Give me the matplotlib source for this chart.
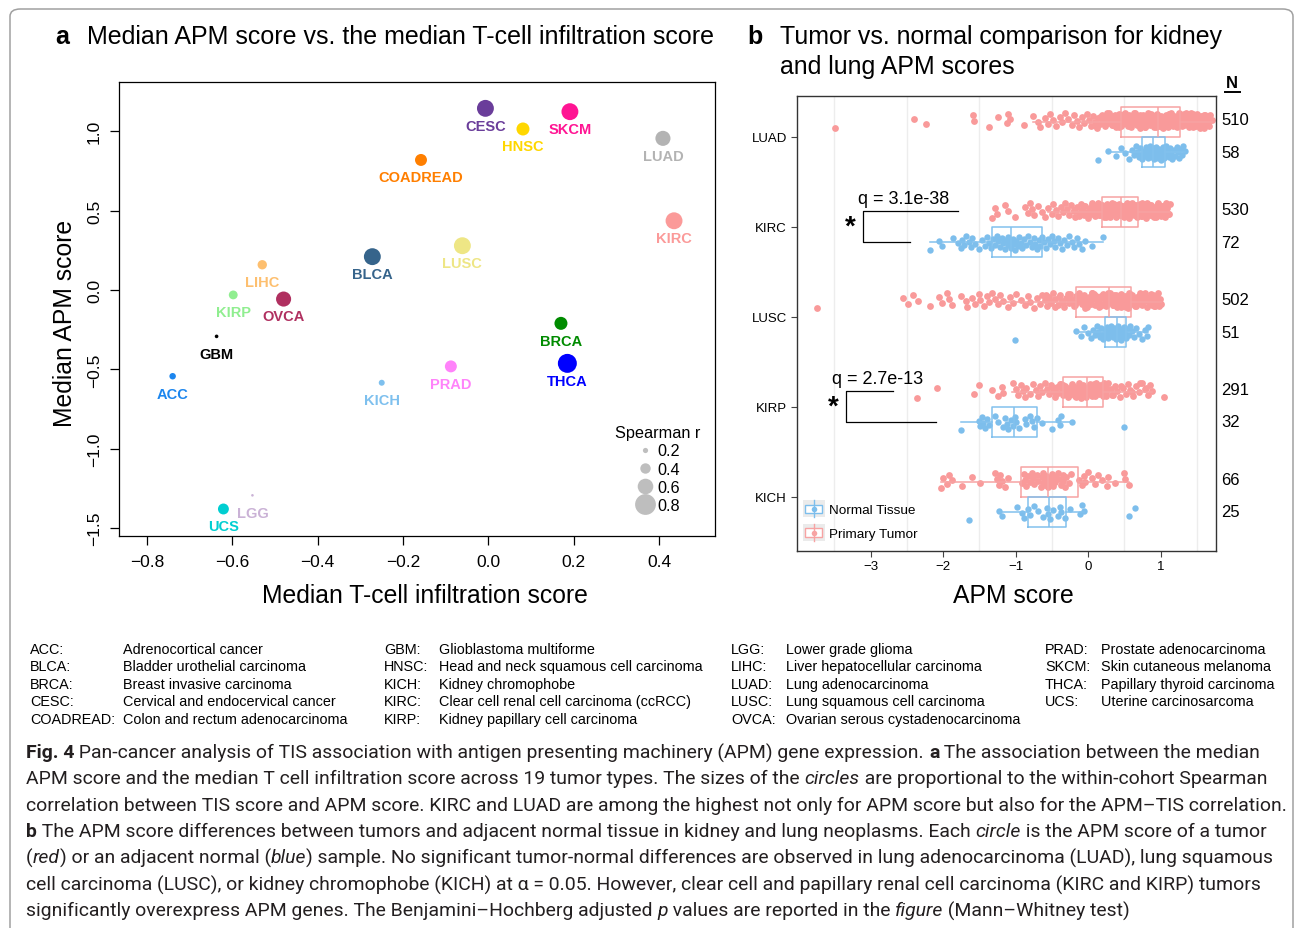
import matplotlib

matplotlib.use("Agg")
import matplotlib.pyplot as plt
import matplotlib.transforms as mtransforms
import numpy as np
from matplotlib import font_manager
from matplotlib.legend_handler import HandlerBase
from matplotlib.lines import Line2D
from matplotlib.patches import FancyBboxPatch, Rectangle

plt.rcParams["font.family"] = ["Liberation Sans", "DejaVu Sans"]

W, H = 1295, 929

# ---- panel a: median T-cell infiltration vs median APM score
cancers = ["ACC", "BLCA", "BRCA", "CESC", "COADREAD", "GBM", "HNSC", "KICH", "KIRC",
           "KIRP", "LGG", "LIHC", "LUAD", "LUSC", "OVCA", "PRAD", "SKCM", "THCA", "UCS"]
tcell = [-0.740, -0.272, 0.170, -0.007, -0.158, -0.637, 0.081, -0.250, 0.435,
         -0.598, -0.553, -0.530, 0.409, -0.061, -0.480, -0.088, 0.191, 0.185, -0.621]
apm = [-0.543, 0.210, -0.210, 1.144, 0.819, -0.292, 1.014, -0.584, 0.436,
       -0.031, -1.293, 0.159, 0.955, 0.279, -0.057, -0.481, 1.123, -0.462, -1.379]
spearman = [0.25, 0.65, 0.50, 0.65, 0.46, 0.14, 0.50, 0.23, 0.65,
            0.34, 0.10, 0.36, 0.58, 0.65, 0.58, 0.46, 0.65, 0.73, 0.42]
colors = ["#1C86EE", "#36648B", "#008B00", "#6A3D9A", "#FF7F00", "#000000", "#FFD700",
          "#7EC0EE", "#FB9A99", "#90EE90", "#CAB2D6", "#FDBF6F", "#B3B3B3", "#EEE685",
          "#B03060", "#FF83FA", "#FF1493", "#0000FF", "#00CED1"]
a_xticks = [-0.8, -0.6, -0.4, -0.2, 0.0, 0.2, 0.4]
a_xticklabels = ["\u22120.8", "\u22120.6", "\u22120.4", "\u22120.2", "0.0", "0.2", "0.4"]
a_yticks = [-1.5, -1.0, -0.5, 0.0, 0.5, 1.0]
a_yticklabels = ["\u22121.5", "\u22121.0", "\u22120.5", "0.0", "0.5", "1.0"]
legend_r = [0.2, 0.4, 0.6, 0.8]

# ---- panel b: tumor vs normal APM scores
groups = ["LUAD", "KIRC", "LUSC", "KIRP", "KICH"]
group_pos = [5, 4, 3, 2, 1]
tumor_n = [510, 530, 502, 291, 66]
normal_n = [58, 72, 51, 32, 25]

tumor_q1 = [0.46, 0.19, -0.17, -0.34, -0.92]
tumor_med = [0.97, 0.46, 0.29, -0.01, -0.56]
tumor_q3 = [1.27, 0.69, 0.59, 0.21, -0.14]
tumor_lo = [-0.76, -0.55, -1.28, -1.05, -2.03]
tumor_hi = [1.71, 1.13, 1.01, 0.88, 0.56]
normal_q1 = [0.75, -1.32, 0.23, -1.33, -0.83]
normal_med = [0.90, -1.06, 0.40, -1.02, -0.54]
normal_q3 = [1.06, -0.64, 0.52, -0.70, -0.30]
normal_lo = [0.30, -2.18, -0.17, -1.76, -1.23]
normal_hi = [1.33, 0.21, 0.83, -0.22, -0.06]

luad_tumor = [-3.49, -2.40, -2.23, -1.59, -1.58, -1.37, -1.25, -1.12, -1.10, -1.08, -0.89,
              -0.76, -0.69, -0.66, -0.60, -0.55, -0.52, -0.48, -0.44, -0.39, -0.36, -0.32,
              -0.28, -0.22, -0.19, -0.15, -0.12, -0.08, -0.05, -0.02,
              0.01, 0.04, 0.07, 0.09, 0.12, 0.14, 0.16, 0.19, 0.21, 0.23, 0.25, 0.27, 0.29,
              0.31, 0.33, 0.34, 0.36, 0.38, 0.40, 0.41, 0.43, 0.45, 0.46, 0.48, 0.50, 0.51,
              0.53, 0.54, 0.56, 0.58, 0.59, 0.61, 0.62, 0.64, 0.65, 0.67, 0.68, 0.70, 0.71,
              0.73, 0.74, 0.76, 0.77, 0.79, 0.80, 0.82, 0.83, 0.85, 0.86, 0.88, 0.89, 0.91,
              0.92, 0.94, 0.95, 0.97, 0.98, 1.00, 1.01, 1.03, 1.04, 1.06, 1.07, 1.09, 1.10,
              1.12, 1.13, 1.15, 1.16, 1.18, 1.19, 1.21, 1.22, 1.24, 1.25, 1.27, 1.28, 1.30,
              1.31, 1.33, 1.35, 1.36, 1.38, 1.40, 1.42, 1.44, 1.46, 1.48, 1.50, 1.52, 1.54,
              1.56, 1.58, 1.60, 1.62, 1.65, 1.68, 1.71,
              0.11, 0.17, 0.22, 0.26, 0.30, 0.35, 0.37, 0.39, 0.42, 0.44, 0.47, 0.49, 0.52,
              0.55, 0.57, 0.60, 0.63, 0.66, 0.69, 0.72, 0.75, 0.78, 0.81, 0.84, 0.87, 0.90,
              0.93, 0.96, 0.99, 1.02, 1.05, 1.08, 1.11, 1.14, 1.17, 1.20, 1.23, 1.26, 1.29,
              1.32, 1.34, 1.37, 1.39, 1.41, 1.43, 1.45, 1.47, 1.49, 1.51, 1.53, 1.55, 1.57,
              1.59, 1.61, 1.64, 1.67, 0.50, 0.58, 0.64, 0.70, 0.76, 0.82, 0.88, 0.94, 1.00,
              1.06, 1.12, 1.18, 1.24, 1.30, 1.36, 1.42, 1.48, 1.54, 1.60, 0.62, 0.78, 0.96,
              1.14, 1.32]
luad_normal = [0.14, 0.28, 0.38, 0.45, 0.51, 0.56, 0.60, 0.63, 0.66, 0.68, 0.70, 0.72,
               0.74, 0.75, 0.77, 0.78, 0.80, 0.81, 0.82, 0.84, 0.85, 0.86, 0.87, 0.88,
               0.89, 0.90, 0.91, 0.92, 0.93, 0.94, 0.95, 0.96, 0.98, 0.99, 1.00, 1.01,
               1.02, 1.03, 1.04, 1.05, 1.06, 1.07, 1.08, 1.10, 1.11, 1.13, 1.15, 1.16,
               1.18, 1.20, 1.22, 1.24, 1.26, 1.28, 1.30, 1.31, 1.33, 0.92]
kirc_tumor = [-1.33, -1.28, -1.26, -1.14, -1.10, -1.01, -0.87, -0.83, -0.80, -0.78, -0.74,
              -0.69, -0.64, -0.59, -0.55, -0.50, -0.48, -0.44, -0.41, -0.37, -0.34, -0.32,
              -0.29, -0.26, -0.23, -0.20, -0.18, -0.15, -0.13, -0.10, -0.08, -0.06, -0.04,
              -0.02, 0.00, 0.02, 0.04, 0.06, 0.08, 0.09, 0.11, 0.13, 0.14, 0.16, 0.17, 0.19,
              0.20, 0.22, 0.23, 0.25, 0.26, 0.27, 0.29, 0.30, 0.31, 0.33, 0.34, 0.35, 0.37,
              0.38, 0.39, 0.41, 0.42, 0.43, 0.45, 0.46, 0.47, 0.49, 0.50, 0.51, 0.53, 0.54,
              0.55, 0.57, 0.58, 0.59, 0.61, 0.62, 0.63, 0.65, 0.66, 0.68, 0.69, 0.71, 0.72,
              0.74, 0.75, 0.77, 0.79, 0.80, 0.82, 0.84, 0.86, 0.88, 0.90, 0.92, 0.94, 0.96,
              0.98, 1.00, 1.02, 1.04, 1.06, 1.08, 1.10, 1.13,
              -0.19, -0.12, -0.05, 0.01, 0.05, 0.10, 0.15, 0.18, 0.21, 0.24, 0.28, 0.32, 0.36,
              0.40, 0.44, 0.48, 0.52, 0.56, 0.60, 0.64, 0.67, 0.70, 0.73, 0.76, 0.78, 0.81,
              0.83, 0.85, 0.87, 0.89, 0.91, 0.93, 0.95, 0.97, 0.99, 1.01, 1.03, 1.05, 1.07,
              1.09, 1.11, 0.12, 0.22, 0.30, 0.38, 0.46, 0.54, 0.62, 0.70, 0.78, 0.86, 0.94,
              1.02, 0.26, 0.34, 0.42, 0.50, 0.58, 0.66, 0.74]
kirc_normal = [-2.18, -2.06, -2.02, -1.86, -1.79, -1.76, -1.74, -1.71, -1.69, -1.65, -1.62,
               -1.60, -1.56, -1.50, -1.47, -1.42, -1.39, -1.37, -1.34, -1.31, -1.28, -1.26,
               -1.24, -1.21, -1.19, -1.17, -1.15, -1.13, -1.11, -1.10, -1.08, -1.06, -1.04,
               -1.02, -1.01, -0.99, -0.97, -0.95, -0.93, -0.91, -0.89, -0.86, -0.83, -0.80,
               -0.78, -0.75, -0.73, -0.70, -0.68, -0.66, -0.64, -0.61, -0.58, -0.55, -0.52,
               -0.50, -0.47, -0.45, -0.42, -0.39, -0.36, -0.33, -0.29, -0.26, -0.22, -0.20,
               -0.16, -0.13, -0.09, -0.04, 0.05, 0.21]
lusc_tumor = [-3.74, -2.55, -2.48, -2.41, -2.34, -2.18, -2.06, -2.02, -1.95, -1.92, -1.88,
              -1.76, -1.69, -1.67, -1.60, -1.56, -1.51, -1.49, -1.44, -1.40, -1.37, -1.33,
              -1.28, -1.24, -1.21, -1.17, -1.10, -1.08, -1.03, -0.99, -0.92, -0.87, -0.83,
              -0.80, -0.74, -0.70, -0.66, -0.63, -0.60, -0.57, -0.54, -0.51, -0.48, -0.45,
              -0.42, -0.39, -0.36, -0.33, -0.30, -0.27, -0.25, -0.22, -0.20, -0.17, -0.15,
              -0.13, -0.10, -0.08, -0.06, -0.03, -0.01, 0.01, 0.03, 0.05, 0.07, 0.09, 0.11,
              0.13, 0.15, 0.17, 0.19, 0.21, 0.23, 0.25, 0.27, 0.29, 0.30, 0.32, 0.34, 0.36,
              0.38, 0.40, 0.41, 0.43, 0.45, 0.47, 0.49, 0.51, 0.53, 0.55, 0.57, 0.59, 0.61,
              0.63, 0.65, 0.67, 0.69, 0.71, 0.73, 0.75, 0.77, 0.79, 0.81, 0.83, 0.85, 0.87,
              0.89, 0.91, 0.93, 0.95, 0.97, 0.99, 1.01,
              -0.58, -0.52, -0.46, -0.40, -0.34, -0.28, -0.23, -0.18, -0.14, -0.09, -0.04,
              0.00, 0.04, 0.08, 0.12, 0.16, 0.20, 0.24, 0.28, 0.31, 0.35, 0.39, 0.42, 0.46,
              0.50, 0.54, 0.58, 0.62, 0.66, 0.70, 0.74, 0.78, 0.82, 0.86, 0.90, 0.94, 0.98,
              -0.12, -0.02, 0.06, 0.14, 0.22, 0.33, 0.44, 0.52, 0.60, 0.68, 0.76, 0.84, 0.92,
              0.18, 0.37, 0.56, 0.72, 0.88]
lusc_normal = [-1.01, -0.17, -0.10, -0.05, 0.00, 0.04, 0.07, 0.10, 0.12, 0.14, 0.16, 0.18,
               0.20, 0.21, 0.23, 0.24, 0.26, 0.27, 0.28, 0.30, 0.31, 0.32, 0.34, 0.35, 0.36,
               0.37, 0.38, 0.39, 0.40, 0.41, 0.42, 0.43, 0.44, 0.45, 0.46, 0.47, 0.48, 0.50,
               0.51, 0.52, 0.54, 0.56, 0.58, 0.60, 0.63, 0.66, 0.70, 0.74, 0.78, 0.81, 0.83]
kirp_tumor = [-2.36, -2.09, -1.58, -1.51, -1.33, -1.24, -1.19, -1.17, -1.03, -1.00, -0.97,
              -0.92, -0.90, -0.87, -0.85, -0.80, -0.76, -0.72, -0.69, -0.66, -0.63, -0.60,
              -0.57, -0.54, -0.51, -0.48, -0.46, -0.43, -0.41, -0.38, -0.36, -0.34, -0.32,
              -0.30, -0.28, -0.26, -0.24, -0.22, -0.20, -0.18, -0.16, -0.14, -0.12, -0.11,
              -0.09, -0.07, -0.05, -0.03, -0.02, 0.00, 0.02, 0.04, 0.05, 0.07, 0.09, 0.11,
              0.13, 0.15, 0.17, 0.19, 0.21, 0.23, 0.25, 0.28, 0.31, 0.34, 0.37, 0.40, 0.44,
              0.48, 0.52, 0.55, 0.58, 0.62, 0.66, 0.70, 0.74, 0.78, 0.82, 0.86, 0.88, 1.05,
              -0.50, -0.44, -0.39, -0.33, -0.27, -0.21, -0.15, -0.10, -0.06, -0.01, 0.03, 0.06,
              0.10, 0.14, 0.18, 0.22, 0.27, 0.33, -0.35, -0.25, -0.17, -0.08, 0.01, 0.08, 0.16,
              0.24, 0.45, 0.60, 0.72, 0.80]
kirp_normal = [-1.76, -1.51, -1.49, -1.47, -1.45, -1.42, -1.40, -1.37, -1.28, -1.24, -1.17,
               -1.15, -1.12, -1.10, -1.06, -1.03, -1.01, -0.99, -0.95, -0.87, -0.85, -0.80,
               -0.78, -0.74, -0.70, -0.64, -0.50, -0.41, -0.39, -0.37, -0.22, 0.50]
kich_tumor = [-2.03, -2.00, -1.95, -1.92, -1.88, -1.74, -1.60, -1.49, -1.28, -1.26, -1.23,
              -1.21, -1.19, -1.14, -1.10, -0.91, -0.88, -0.87, -0.85, -0.83, -0.80, -0.78,
              -0.76, -0.74, -0.70, -0.69, -0.65, -0.64, -0.62, -0.62, -0.60, -0.59, -0.58,
              -0.57, -0.55, -0.53, -0.52, -0.50, -0.48, -0.48, -0.46, -0.45, -0.41, -0.40,
              -0.37, -0.35, -0.34, -0.32, -0.30, -0.27, -0.23, -0.13, -0.09, -0.05, -0.04,
              0.00, 0.05, 0.10, 0.14, 0.19, 0.26, 0.28, 0.37, 0.49, 0.51, 0.56]
kich_normal = [-1.65, -1.23, -1.19, -0.98, -0.91, -0.89, -0.83, -0.80, -0.74, -0.69, -0.62,
               -0.57, -0.55, -0.53, -0.48, -0.41, -0.39, -0.37, -0.32, -0.25, -0.11, -0.09,
               -0.06, 0.56, 0.65]
tumor_values = [luad_tumor, kirc_tumor, lusc_tumor, kirp_tumor, kich_tumor]
normal_values = [luad_normal, kirc_normal, lusc_normal, kirp_normal, kich_normal]

b_xticks = [-3, -2, -1, 0, 1]
b_xticklabels = ["\u22123", "\u22122", "\u22121", "0", "1"]
b_grid = [-3.5, -2.5, -1.5, -0.5, 0.5, 1.5]

# significance brackets (KIRC, KIRP)
sig_pos = [4, 2]
sig_labels = ["q = 3.1e-38", "q = 2.7e-13"]
sig_left = [-3.10, -3.34]
sig_top_end = [-1.80, -2.69]
sig_bottom_end = [-2.455, -2.10]
sig_text_x = [-2.54, -2.91]
sig_star_x = [-3.28, -3.52]

abbr_codes = [["ACC:", "BLCA:", "BRCA:", "CESC:", "COADREAD:"],
              ["GBM:", "HNSC:", "KICH:", "KIRC:", "KIRP:"],
              ["LGG:", "LIHC:", "LUAD:", "LUSC:", "OVCA:"],
              ["PRAD:", "SKCM:", "THCA:", "UCS:"]]
abbr_names = [["Adrenocortical cancer", "Bladder urothelial carcinoma", "Breast invasive carcinoma",
               "Cervical and endocervical cancer", "Colon and rectum adenocarcinoma"],
              ["Glioblastoma multiforme", "Head and neck squamous cell carcinoma",
               "Kidney chromophobe", "Clear cell renal cell carcinoma (ccRCC)",
               "Kidney papillary cell carcinoma"],
              ["Lower grade glioma", "Liver hepatocellular carcinoma", "Lung adenocarcinoma",
               "Lung squamous cell carcinoma", "Ovarian serous cystadenocarcinoma"],
              ["Prostate adenocarcinoma", "Skin cutaneous melanoma", "Papillary thyroid carcinoma",
               "Uterine carcinosarcoma"]]

caption_lines = [
    [("Fig. 4", "b"), (" Pan-cancer analysis of TIS association with antigen presenting machinery (APM) gene expression. ", "r"),
     ("a", "b"), (" The association between the median", "r")],
    [("APM score and the median T cell infiltration score across 19 tumor types. The sizes of the ", "r"),
     ("circles", "i"), (" are proportional to the within-cohort Spearman", "r")],
    [("correlation between TIS score and APM score. KIRC and LUAD are among the highest not only for APM score but also for the APM\u2013TIS correlation.", "r")],
    [("b", "b"), (" The APM score differences between tumors and adjacent normal tissue in kidney and lung neoplasms. Each ", "r"),
     ("circle", "i"), (" is the APM score of a tumor", "r")],
    [("(", "r"), ("red", "i"), (") or an adjacent normal (", "r"), ("blue", "i"),
     (") sample. No significant tumor-normal differences are observed in lung adenocarcinoma (LUAD), lung squamous", "r")],
    [("cell carcinoma (LUSC), or kidney chromophobe (KICH) at \u03b1 = 0.05. However, clear cell and papillary renal cell carcinoma (KIRC and KIRP) tumors", "r")],
    [("significantly overexpress APM genes. The Benjamini\u2013Hochberg adjusted ", "r"), ("p", "i"),
     (" values are reported in the ", "r"), ("figure", "i"), (" (Mann\u2013Whitney test)", "r")],
]
# line widths in the reference, px
caption_widths = [1231, 1236, 1252, 1240, 1241, 1222, 1094]

TUMOR_C = "#F99A9A"
NORMAL_C = "#7DBEEC"


def px(x, y):
    """pixel position (from top-left) -> figure fraction"""
    return x / W, 1 - y / H


def r_to_size(r):
    d = 26 * r * 0.72  # diameter in points
    return d * d


def jitter(n, half=0.09):
    k = np.arange(n)
    return ((k * 0.618034) % 1.0 - 0.5) * 2 * half


class BoxKey(HandlerBase):
    def create_artists(self, legend, orig_handle, xd, yd, width, height, fontsize, trans):
        c = orig_handle.get_color()
        x0, y0 = -xd, -yd
        bg = Rectangle((x0, y0), width, height, fc="#EBEBEB", ec="none", transform=trans)
        bw, bh = width * 0.8, height * 0.52
        box = Rectangle((x0 + (width - bw) / 2, y0 + (height - bh) / 2), bw, bh,
                        fc="white", ec=c, lw=1.0, transform=trans)
        vline = Line2D([x0 + width / 2] * 2, [y0, y0 + height], color=c, lw=1.0, transform=trans)
        dot = Line2D([x0 + width / 2], [y0 + height / 2], marker="o", ms=4, color=c,
                     mec="none", transform=trans)
        return [bg, box, vline, dot]


fig = plt.figure(figsize=(W / 100, H / 100), dpi=100)
renderer = fig.canvas.get_renderer()

# ================= panel a =================
ax = fig.add_axes([119.3 / W, 1 - 537.3 / H, (715 - 119.3) / W, (537.3 - 83.3) / H])
ax.scatter(tcell, apm, s=[r_to_size(r) for r in spearman], c=colors, edgecolors="none", zorder=3)
for name, x, y, c in zip(cancers, tcell, apm, colors):
    ax.annotate(name, (x, y), xytext=(0, -12.5), textcoords="offset points", ha="center",
                va="center", color=c, fontsize=10.5, fontweight="bold")
ax.set_xlim(-0.865, 0.531)
ax.set_ylim(-1.551, 1.308)
ax.set_xticks(a_xticks)
ax.set_xticklabels(a_xticklabels, fontsize=12.5)
ax.set_yticks(a_yticks)
ax.set_yticklabels(a_yticklabels, fontsize=12.5, rotation=90, va="center")
ax.tick_params(length=6.5, width=0.9, pad=6)
for s in ax.spines.values():
    s.set_linewidth(0.9)
ax.set_xlabel("Median T-cell infiltration score", fontsize=17.8)
ax.set_ylabel("Median APM score", fontsize=17.8)
ax.xaxis.set_label_coords(0.513, -0.129)
ax.xaxis.label.set_va("center")
ax.yaxis.set_label_coords(-0.091, 0.47)
ax.yaxis.label.set_va("center")

handles = [Line2D([], [], ls="none", marker="o", mec="none", color="#BEBEBE",
                  markersize=26 * r * 0.72) for r in legend_r]
leg = ax.legend(handles, [f"{r:.1f}" for r in legend_r], title="Spearman r", loc="upper left",
                bbox_to_anchor=(0.832, 0.245), frameon=False, fontsize=11.7, title_fontsize=11.7,
                handlelength=3.69, handletextpad=-1.05, labelspacing=0.2, borderpad=0,
                borderaxespad=0, alignment="left")

# ================= panel b =================
bx = fig.add_axes([796.7 / W, 1 - 551.7 / H, 419 / W, 455 / H])
for pos, tv, nv in zip(group_pos, tumor_values, normal_values):
    bx.plot(tv, pos + 0.185 + jitter(len(tv), 0.085), "o", ms=4.9, color=TUMOR_C, mec="none", zorder=2)
    bx.plot(nv, pos - 0.175 + jitter(len(nv), 0.08), "o", ms=4.6, color=NORMAL_C, mec="none", zorder=2)

t_stats = [dict(q1=a, med=b, q3=c, whislo=d, whishi=e) for a, b, c, d, e in
           zip(tumor_q1, tumor_med, tumor_q3, tumor_lo, tumor_hi)]
n_stats = [dict(q1=a, med=b, q3=c, whislo=d, whishi=e) for a, b, c, d, e in
           zip(normal_q1, normal_med, normal_q3, normal_lo, normal_hi)]
for stats, offs, col in [(t_stats, 0.167, "#F7A3A3"), (n_stats, -0.167, "#82C1EE")]:
    style = dict(color=col, lw=1.1)
    bx.bxp(stats, positions=[p + offs for p in group_pos], widths=0.333, orientation="horizontal",
           showfliers=False, showcaps=False, boxprops=style, whiskerprops=style,
           medianprops=style, manage_ticks=False, zorder=3)

bx.set_xlim(-4.02, 1.76)
bx.set_ylim(0.398, 5.459)
bx.set_xticks(b_xticks)
bx.set_xticklabels(b_xticklabels, fontsize=9.5)
bx.set_xticks(b_grid, minor=True)
bx.grid(which="minor", axis="x", color="#EDEDED", lw=1.0, zorder=0)
bx.set_yticks(group_pos)
bx.set_yticklabels(groups, fontsize=9.5)
bx.tick_params(which="major", length=4, width=0.8, color="#444444", pad=3)
bx.tick_params(which="minor", length=0)
for s in bx.spines.values():
    s.set_linewidth(1.0)
    s.set_color("#333333")
bx.set_xlabel("APM score", fontsize=17.8)
bx.xaxis.set_label_coords(0.516, -0.097)
bx.xaxis.label.set_va("center")

trans = mtransforms.blended_transform_factory(bx.transAxes, bx.transData)
for pos, tn, nn in zip(group_pos, tumor_n, normal_n):
    bx.text(1.013, pos + 0.19, str(tn), transform=trans, fontsize=12, va="center", ha="left")
    bx.text(1.013, pos - 0.17, str(nn), transform=trans, fontsize=12, va="center", ha="left")

for pos, lab, xl, xt, xb, xtx, xs in zip(sig_pos, sig_labels, sig_left, sig_top_end,
                                           sig_bottom_end, sig_text_x, sig_star_x):
    bx.plot([xt, xl, xl, xb], [pos + 0.174, pos + 0.174, pos - 0.17, pos - 0.17],
            color="black", lw=0.9, zorder=4)
    bx.text(xtx, pos + 0.31, lab, fontsize=13, ha="center", va="center")
    bx.text(xs, pos, "*", fontsize=20, fontweight="bold", ha="center", va="center")

key_handles = [Line2D([], [], color=NORMAL_C), Line2D([], [], color="#F7A3A3")]
bx.legend(key_handles, ["Normal Tissue", "Primary Tumor"], loc="lower left",
          bbox_to_anchor=(0.014, 0.021), frameon=False, fontsize=9.7,
          handler_map={Line2D: BoxKey()}, handlelength=1.63, handleheight=1.56,
          handletextpad=0.32, labelspacing=0.5, borderpad=0, borderaxespad=0)

# ================= titles =================
fig.text(*px(55, 37), "a", fontsize=18, fontweight="bold", va="center")
fig.text(*px(87, 37), "Median APM score vs. the median T-cell infiltration score", fontsize=18,
         va="center")
fig.text(*px(747, 37), "b", fontsize=18, fontweight="bold", va="center")
fig.text(*px(780, 37), "Tumor vs. normal comparison for kidney", fontsize=17.9, va="center")
fig.text(*px(780, 67), "and lung APM scores", fontsize=17.9, va="center")
fig.text(*px(1232, 83), "N", fontsize=12, fontweight="bold", ha="center", va="center")
fig.add_artist(Line2D([1225 / W, 1240 / W], [1 - 93 / H] * 2, color="black", lw=1.4))

# ================= abbreviation table =================
code_x = [30, 384, 731, 1045]
name_x = [123, 439, 786, 1101]
row_y = [650, 667.5, 685, 702.5, 720]
for cx, nx, codes, names in zip(code_x, name_x, abbr_codes, abbr_names):
    for y, code, name in zip(row_y, codes, names):
        fig.text(*px(cx, y), code, fontsize=10.4, va="center")
        fig.text(*px(nx, y), name, fontsize=10.4, va="center")


# ================= caption =================
def run_props(st):
    return dict(fontweight="bold" if st == "b" else "normal",
                fontstyle="italic" if st == "i" else "normal")


def line_width(runs, family, size):
    total = 0.0
    for txt, st in runs:
        t = fig.text(0, 0, txt, fontsize=size, family=family, **run_props(st))
        total += t.get_window_extent(renderer=renderer).width
        t.remove()
    return total


installed = {f.name for f in font_manager.fontManager.ttflist}
best = None
for fam in ["Lato", "Open Sans", "Noto Sans", "Roboto", "Inter", "Liberation Sans"]:
    if fam not in installed:
        continue
    fam_list = [fam, "DejaVu Sans"]
    m = np.array([line_width(r, fam_list, 12) for r in caption_lines])
    t = np.array(caption_widths, dtype=float)
    k = (m * t).sum() / (m * m).sum()
    err = ((t - k * m) ** 2).sum()
    if best is None or err < best[0]:
        best = (err, fam_list, 12 * k)
_, cap_family, cap_size = best

line_y = [753, 779, 805.5, 832, 858.5, 885, 911]
for y, runs in zip(line_y, caption_lines):
    x = 26
    for txt, st in runs:
        t = fig.text(*px(x, y), txt, fontsize=cap_size, family=cap_family, color="#231F20",
                     va="center", ha="left", **run_props(st))
        x += t.get_window_extent(renderer=renderer).width

frame = FancyBboxPatch((10 / W, -0.05), 1283 / W, 1 - 10 / H + 0.05,
                       boxstyle="round,pad=0,rounding_size=0.008", transform=fig.transFigure,
                       fc="none", ec="#A0A0A0", lw=1.1)
fig.add_artist(frame)

fig.savefig("out.png", dpi=100)
